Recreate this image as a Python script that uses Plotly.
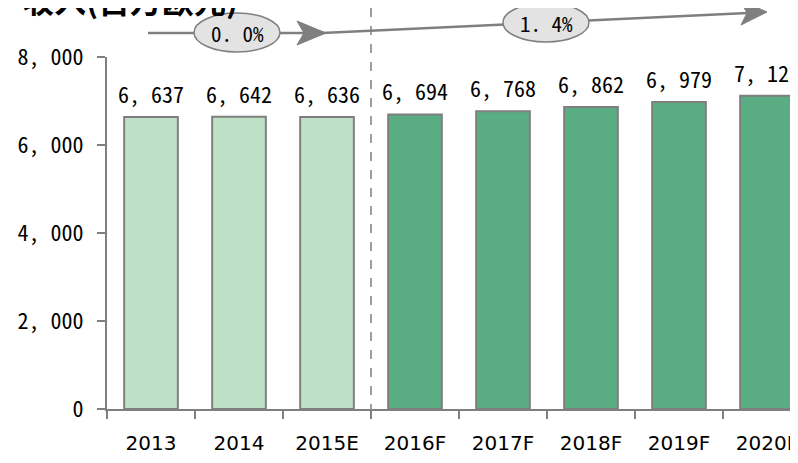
import plotly.graph_objects as go

years = ['2013', '2014', '2015E', '2016F', '2017F', '2018F', '2019F', '2020F']
revenue = [6637, 6642, 6636, 6694, 6768, 6862, 6979, 7122]
bar_colors = ['#BDE0C6'] * 3 + ['#5AAD82'] * 5
y_ticks = [0, 2000, 4000, 6000, 8000]
cagr_labels = ['0. 0%', '1. 4%']
title_text = '收入(百万欧元)'

# the page body has an 8px margin, so the figure is laid out 8px in from the corner
OFF = 8
W, H = 798 - OFF, 463 - OFF
L, T, B = 107 - OFF, 57 - OFF, H - (409 - OFF)
PW, PH = W - L, H - T - B

MONO = '"Noto Sans Mono CJK SC", "Noto Sans CJK SC", "DejaVu Sans Mono", monospace'
GRAY = '#7F7F7F'


def px(x):
    # page pixel -> paper
    return (x - OFF - L) / PW


def py(y):
    return (H - B - (y - OFF)) / PH


def fmt(v):
    return f'{v:,}'.replace(',', ', ')


fig = go.Figure()
fig.add_trace(go.Bar(
    x=years,
    y=revenue,
    marker=dict(color=bar_colors, line=dict(color=GRAY, width=2)),
    width=0.61,
    hoverinfo='x+y',
))

shapes = []
# dashed divider between actuals and forecasts
shapes.append(dict(type='line', xref='paper', yref='paper',
                   x0=px(371), x1=px(371), y0=py(8), y1=py(409),
                   line=dict(color=GRAY, width=1.5, dash='dash')))
# arrows
shapes.append(dict(type='line', xref='paper', yref='paper',
                   x0=px(148), y0=py(33), x1=px(305), y1=py(33),
                   line=dict(color=GRAY, width=2.5)))
shapes.append(dict(type='line', xref='paper', yref='paper',
                   x0=px(322), y0=py(33), x1=px(748), y1=py(13),
                   line=dict(color=GRAY, width=2.5)))


def head(pts):
    return 'M ' + ' L '.join(f'{px(a):.5f},{py(b):.5f}' for a, b in pts) + ' Z'


shapes.append(dict(type='path', xref='paper', yref='paper',
                   path=head([(326, 33), (297, 21), (304, 33), (297, 45)]),
                   fillcolor=GRAY, line=dict(color=GRAY, width=1)))
shapes.append(dict(type='path', xref='paper', yref='paper',
                   path=head([(767, 12), (740, 0), (747, 13), (741, 25)]),
                   fillcolor=GRAY, line=dict(color=GRAY, width=1)))
# ellipses
ellipse_centers = [(237, 32.5), (546, 22.5)]
for (cx, cy) in ellipse_centers:
    shapes.append(dict(type='circle', xref='paper', yref='paper',
                       x0=px(cx - 43), x1=px(cx + 43),
                       y0=py(cy + 19.5), y1=py(cy - 19.5),
                       fillcolor='#E3E3E3', line=dict(color=GRAY, width=1.5)))

annotations = []
# value labels above the bars (category axis: position by index)
for i, v in enumerate(revenue):
    annotations.append(dict(text=fmt(v), x=i, y=v, xref='x', yref='y',
                            showarrow=False, xanchor='center', yanchor='bottom',
                            yshift=6,
                            font=dict(family=MONO, size=22, color='#000000')))
for lab, (cx, cy) in zip(cagr_labels, ellipse_centers):
    annotations.append(dict(text=lab, xref='paper', yref='paper',
                            x=px(cx), y=py(cy), showarrow=False,
                            xanchor='center', yanchor='middle',
                            font=dict(family=MONO, size=21, color='#000000')))
annotations.append(dict(text='<b>' + title_text + '</b>', xref='paper', yref='paper',
                        x=px(20), y=py(-1), showarrow=False,
                        xanchor='left', yanchor='middle',
                        font=dict(family='"Noto Sans CJK SC", sans-serif', size=32, color='#000000')))

fig.update_layout(
    width=W, height=H,
    margin=dict(l=L, r=0, t=T, b=B, pad=0),
    plot_bgcolor='white',
    paper_bgcolor='white',
    showlegend=False,
    bargap=0.39,
    shapes=shapes,
    annotations=annotations,
)
fig.update_xaxes(
    range=[-0.5, -0.5 + PW / 88],
    showline=True, linecolor=GRAY, linewidth=2,
    ticks='outside', tickson='boundaries', ticklen=8, tickwidth=1.5, tickcolor=GRAY,
    tickfont=dict(family='"DejaVu Sans", sans-serif', size=20, color='#000000'),
    ticklabelstandoff=15,
    showgrid=False, zeroline=False,
)
fig.update_yaxes(
    range=[0, 8000],
    tickvals=y_ticks, ticktext=[fmt(v) for v in y_ticks],
    showline=True, linecolor=GRAY, linewidth=2,
    ticks='outside', ticklen=8, tickwidth=1.5, tickcolor=GRAY,
    tickfont=dict(family=MONO, size=22, color='#000000'),
    ticklabelstandoff=9,
    showgrid=False, zeroline=False,
)

fig.write_html('out.html')
